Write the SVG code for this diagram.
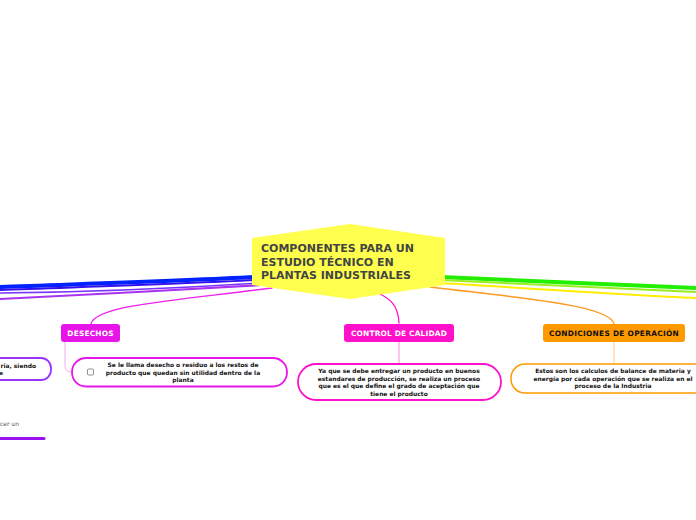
<svg xmlns="http://www.w3.org/2000/svg" width="696" height="520" viewBox="0 0 696 520">
<style>
.t{font-family:"DejaVu Sans","Liberation Sans",sans-serif;font-weight:bold}
.main{font-size:11px;fill:#444444}
.lbl{font-size:7.4px;fill:#ffffff;text-anchor:middle;letter-spacing:0.2px}
.lbl2{font-size:7.4px;fill:#111111;text-anchor:middle;letter-spacing:0.3px}
.body{font-size:5.95px;fill:#111111;text-anchor:middle}
.c{fill:none;stroke-linecap:round}
</style>
<rect width="696" height="520" fill="#ffffff"/>
<g id="connectors">
  <path class="c" d="M258,277 C180,281 80,284 0,287" stroke="#0022ff" stroke-width="4"/>
  <path class="c" d="M258,280 C180,284 80,287 0,290" stroke="#3311ee" stroke-width="2"/>
  <path class="c" d="M258,283 C180,288 80,292 0,293" stroke="#7a33ff" stroke-width="1.5"/>
  <path class="c" d="M262,285 C180,290 80,295 0,299" stroke="#a833f0" stroke-width="2.2"/>
  <path class="c" d="M272,288 C180,300 95,305 91,324" stroke="#ee22ee" stroke-width="1.3"/>
  <path class="c" d="M372,290 C390,298 398,304 399,323" stroke="#ff11cc" stroke-width="1.3"/>
  <path class="c" d="M430,287 C520,298 610,305 614,324" stroke="#ff9922" stroke-width="1.5"/>
  <path class="c" d="M440,277 C540,281 630,285 696,288" stroke="#22ee00" stroke-width="4"/>
  <path class="c" d="M440,280 C540,285 630,289 696,292" stroke="#99ee22" stroke-width="2"/>
  <path class="c" d="M440,283 C540,289 630,295 696,298" stroke="#ffee00" stroke-width="2"/>
  <path class="c" d="M65,342 L65,366 Q65,372 72,372" stroke="#f6a8f6" stroke-width="1"/>
  <path class="c" d="M399,342 L399,364" stroke="#ff88dd" stroke-width="1"/>
  <path class="c" d="M614,342 L614,364" stroke="#ffcc77" stroke-width="1"/>
  <path class="c" d="M0,438.5 L44,438.5" stroke="#9911ee" stroke-width="3"/>
</g>
<g id="central">
  <path d="M252,238 L350,224 L445,238 L445,285 L350,299 L252,285 Z" fill="#ffff4d"/>
  <text class="t main" x="261" y="252">COMPONENTES PARA UN</text>
  <text class="t main" x="261" y="266">ESTUDIO TÉCNICO EN</text>
  <text class="t main" x="261" y="279">PLANTAS INDUSTRIALES</text>
</g>
<g id="desechos">
  <rect x="61" y="324" width="59" height="18" rx="3" fill="#e815e8"/>
  <text class="t lbl" x="90.5" y="335.5">DESECHOS</text>
</g>
<g id="desechos-detail">
  <rect x="72" y="358" width="215" height="28.5" rx="14" fill="#ffffff" stroke="#e815e8" stroke-width="1.8"/>
  <rect x="87.5" y="369" width="6" height="6" rx="1" fill="#ffffff" stroke="#777777" stroke-width="0.8"/>
  <text class="t body" x="183" y="367">Se le llama desecho o residuo a los restos de</text>
  <text class="t body" x="183" y="374.5">producto que quedan sin utilidad dentro de la</text>
  <text class="t body" x="183" y="382">planta</text>
</g>
<g id="calidad">
  <rect x="344" y="324" width="110" height="18" rx="3" fill="#ff11cc"/>
  <text class="t lbl" x="399" y="335.5">CONTROL DE CALIDAD</text>
</g>
<g id="calidad-detail">
  <rect x="298" y="364" width="203" height="36" rx="18" fill="#ffffff" stroke="#ff11cc" stroke-width="1.8"/>
  <text class="t body" x="399" y="373">Ya que se debe entregar un producto en buenos</text>
  <text class="t body" x="399" y="380.5">estandares de producción, se realiza un proceso</text>
  <text class="t body" x="399" y="388">que es el que define el grado de aceptación que</text>
  <text class="t body" x="399" y="395.5">tiene el producto</text>
</g>
<g id="operacion">
  <rect x="543" y="324" width="142" height="18" rx="3" fill="#ff9900"/>
  <text class="t lbl2" x="614" y="335.5">CONDICIONES DE OPERACIÓN</text>
</g>
<g id="operacion-detail">
  <rect x="511" y="364" width="210" height="29" rx="14" fill="#ffffff" stroke="#ff9900" stroke-width="1.5"/>
  <text class="t body" x="613" y="373">Estos son los calculos de balance de materia y</text>
  <text class="t body" x="613" y="380.5">energía por cada operación que se realiza en el</text>
  <text class="t body" x="613" y="388">proceso de la Industria</text>
</g>
<g id="left-detail">
  <rect x="-60" y="358" width="111" height="22" rx="10" fill="#ffffff" stroke="#9933ff" stroke-width="1.8"/>
  <text class="t body" x="36" y="367.5" style="text-anchor:end">ria, siendo</text>
  <text class="t body" x="-1" y="375" style="text-anchor:start">e</text>
</g>
<g id="left-text">
  <text x="0" y="426" style="font-family:'DejaVu Sans',sans-serif;font-size:6px;fill:#555555">cer un</text>
</g>
</svg>
